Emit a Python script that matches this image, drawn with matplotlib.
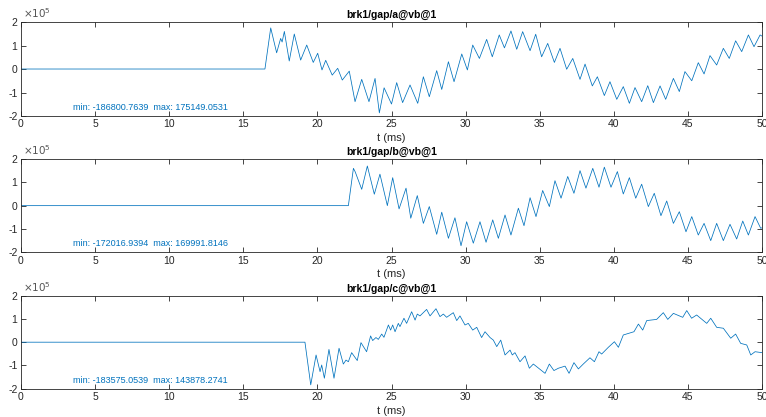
import numpy as np
import matplotlib
matplotlib.use('Agg')
import matplotlib.pyplot as plt

# 三个通道的波形，数值单位 1e5，按图上的峰谷读取
names = ['brk1/gap/a@vb@1', 'brk1/gap/b@vb@1', 'brk1/gap/c@vb@1']

t_a = [0, 16.46, 16.85, 17.25, 17.52, 17.62, 17.77, 18.1, 18.44, 18.87, 19.28, 19.72, 20.02,
       20.31, 20.56, 21.0, 21.37, 21.68, 22.15, 22.54, 22.99, 23.48, 23.89, 24.18, 24.5,
       25.0, 25.35, 25.75, 26.25, 26.77, 27.15, 27.55, 28.05, 28.39, 28.84, 29.22, 29.74,
       30.12, 30.48, 30.93, 31.42, 31.8, 32.27, 32.62, 33.06, 33.45, 33.85, 34.35, 34.73,
       35.13, 35.54, 35.99, 36.37, 36.82, 37.23, 37.72, 38.06, 38.55, 38.89, 39.36, 39.74,
       40.2, 40.64, 41.05, 41.43, 41.88, 42.29, 42.67, 43.12, 43.5, 44.02, 44.42, 44.8,
       45.26, 45.7, 46.09, 46.49, 46.94, 47.39, 47.79, 48.22, 48.63, 49.08, 49.46, 49.87, 50]
v_a = [0, 0, 1.75, 0.69, 1.3, 1.15, 1.6, 0.34, 1.49, 0.38, 1.02, 0.28, 0.67,
       -0.04, 0.37, -0.26, 0.03, -0.47, -0.09, -1.39, -0.44, -1.39, -0.4, -1.868, -0.8,
       -1.49, -0.58, -1.43, -0.68, -1.46, -0.33, -1.18, -0.07, -0.87, 0.31, -0.54, 0.64,
       -0.04, 1.02, 0.45, 1.26, 0.52, 1.45, 0.9, 1.62, 0.84, 1.59, 0.78, 1.48,
       0.52, 1.09, 0.28, 0.88, -0.01, 0.45, -0.44, 0.21, -0.72, -0.33, -1.13, -0.54,
       -1.29, -0.75, -1.46, -0.79, -1.39, -0.71, -1.43, -0.72, -1.29, -0.4, -0.96, -0.11,
       -0.5, 0.27, -0.21, 0.57, 0.17, 0.88, 0.45, 1.2, 0.74, 1.45, 0.95, 1.45, 1.4]

t_b = [0, 22.09, 22.43, 22.55, 22.99, 23.37, 23.84, 24.22, 24.72, 25.08, 25.51, 25.98, 26.3,
       26.74, 27.15, 27.55, 28.05, 28.39, 28.84, 29.28, 29.69, 30.07, 30.52, 30.97, 31.38,
       31.83, 32.21, 32.66, 33.06, 33.56, 33.94, 34.35, 34.75, 35.2, 35.65, 36.03, 36.44,
       36.89, 37.31, 37.72, 38.12, 38.58, 39.0, 39.36, 39.81, 40.24, 40.64, 41.05, 41.48,
       41.88, 42.33, 42.73, 43.18, 43.57, 44.02, 44.42, 44.87, 45.26, 45.7, 46.09, 46.54,
       46.94, 47.39, 47.84, 48.29, 48.7, 49.08, 49.53, 49.91, 50]
v_b = [0, 0, 1.6, 1.45, 0.7, 1.7, 0.49, 1.35, 0, 1.2, -0.14, 0.75, -0.54,
       0.43, -0.76, -0.04, -1.23, -0.28, -1.4, -0.52, -1.72, -0.69, -1.61, -0.69, -1.57,
       -0.61, -1.4, -0.4, -1.26, -0.11, -0.86, 0.34, -0.47, 0.65, -0.04, 1.07, 0.32,
       1.25, 0.53, 1.5, 0.75, 1.6, 0.79, 1.65, 0.79, 1.46, 0.5, 1.2, 0.32,
       0.92, -0.04, 0.53, -0.43, 0.2, -0.76, -0.26, -1.12, -0.47, -1.26, -0.76, -1.5,
       -0.76, -1.5, -0.8, -1.43, -0.66, -1.26, -0.47, -0.97, -0.95]

t_c = [0, 19.16, 19.55, 19.91, 20.18, 20.29, 20.47, 20.78, 21.12, 21.46, 21.75, 21.93, 22.09,
       22.31, 22.69, 22.94, 23.32, 23.59, 23.73, 23.95, 24.11, 24.34, 24.49, 24.79, 24.94,
       25.08, 25.24, 25.46, 25.57, 25.84, 26.02, 26.36, 26.59, 26.74, 26.92, 27.37, 27.6,
       28.0, 28.27, 28.5, 28.72, 29.17, 29.4, 29.62, 29.96, 30.18, 30.48, 30.75, 31.08,
       31.31, 31.65, 31.87, 32.1, 32.37, 32.66, 33.0, 33.15, 33.33, 33.67, 34.01, 34.3,
       34.57, 34.75, 35.36, 35.65, 35.96, 36.26, 36.71, 36.98, 37.31, 37.61, 37.94, 38.39,
       38.69, 39.0, 39.18, 39.63, 40.04, 40.31, 40.64, 41.36, 41.66, 41.95, 42.22, 42.89,
       43.34, 43.64, 44.02, 44.65, 44.92, 45.25, 45.59, 46.27, 46.54, 46.94, 47.39, 47.89,
       48.22, 48.56, 48.97, 49.24, 49.53, 50]
v_c = [0, 0, -1.836, -0.55, -1.27, -0.98, -1.55, -0.31, -1.55, -0.26, -0.94, -0.77, -0.84,
       -0.45, -0.79, -0.02, -0.41, 0.27, 0.07, 0.2, 0.12, 0.35, 0.21, 0.74, 0.52,
       0.74, 0.45, 0.81, 0.67, 1.03, 0.81, 1.31, 0.95, 1.21, 1.13, 1.41, 1.13,
       1.44, 1.1, 1.21, 1.07, 1.27, 0.93, 1.13, 0.74, 0.81, 0.52, 0.64, 0.2,
       0.45, 0.2, 0.09, -0.19, 0.09, -0.55, -0.34, -0.55, -0.45, -0.84, -0.59, -1.12,
       -0.94, -1.03, -1.34, -0.94, -1.22, -1.12, -1.03, -1.34, -0.88, -1.15, -0.94, -0.67,
       -0.84, -0.41, -0.51, -0.22, 0.02, -0.22, 0.31, 0.45, 0.78, 0.52, 0.93, 0.98,
       1.27, 0.98, 1.24, 1.07, 1.36, 1.03, 1.17, 0.81, 1.03, 0.64, 0.6, 0.17,
       0.35, -0.05, -0.12, -0.55, -0.41, -0.45]

stats = ['min: -186800.7639  max: 175149.0531',
         'min: -172016.9394  max: 169991.8146',
         'min: -183575.0539  max: 143878.2741']

yticks = [-2, -1, 0, 1, 2]
ytick_labels = ['-2', '-1', '0', '1', '2']

series = [(t_a, v_a), (t_b, v_b), (t_c, v_c)]

plt.rcParams['font.family'] = ['Liberation Sans', 'DejaVu Sans']
plt.rcParams['axes.unicode_minus'] = False

gray = '#262626'
blue = '#0072BD'

fig = plt.figure(figsize=(7.66, 4.17), dpi=100)
boxes = [[0.0274, 0.7218, 0.9674, 0.2254],
         [0.0274, 0.3950, 0.9674, 0.2237],
         [0.0274, 0.0679, 0.9674, 0.2230]]

for box, name, (t, v), s in zip(boxes, names, series, stats):
    ax = fig.add_axes(box)
    # 纵轴单位 1e5，和 MATLAB 一样在左上角标出指数
    ax.plot(t, v, color=blue, lw=0.55)
    ax.set_xlim(0, 50)
    ax.set_ylim(-2, 2)
    ax.set_xticks(np.arange(0, 51, 5))
    ax.set_yticks(yticks)
    ax.set_yticklabels(ytick_labels)
    ax.tick_params(direction='in', length=3.5, width=0.6, labelsize=7.5,
                   colors=gray, top=True, right=True, pad=2.5)
    for sp in ax.spines.values():
        sp.set_color(gray)
        sp.set_linewidth(0.6)
    ax.text(0.003, 1.02, r'$\times10^{5}$', transform=ax.transAxes,
            fontsize=7.5, color='#555555', va='bottom', ha='left')
    ax.set_title(name, fontsize=7.5, fontweight='bold', pad=3, color='black')
    ax.set_xlabel('t (ms)', fontsize=8, color=gray, labelpad=2.5)
    ax.text(3.5, -1.64, s, color=blue, fontsize=6.5, va='center')

fig.savefig('out.png', dpi=100)
